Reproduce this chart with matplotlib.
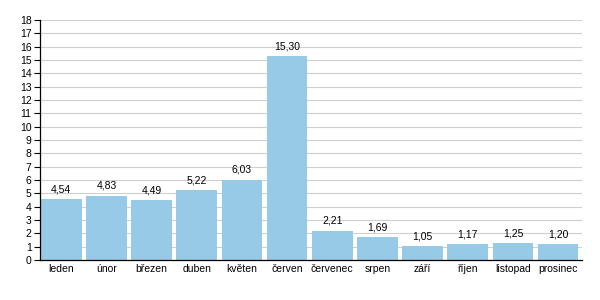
import matplotlib
matplotlib.use("Agg")
import matplotlib.pyplot as plt
import numpy as np

months = ["leden", "únor", "březen", "duben", "květen", "červen",
          "červenec", "srpen", "září", "říjen", "listopad", "prosinec"]
values = [4.54, 4.83, 4.49, 5.22, 6.03, 15.30, 2.21, 1.69, 1.05, 1.17, 1.25, 1.20]
yticks = list(range(0, 19))

plt.rcParams['font.family'] = ['Liberation Sans', 'DejaVu Sans']

fig = plt.figure(figsize=(6, 3), dpi=100)
ax = fig.add_axes([0.0667, 0.1333, 0.9033, 0.80])

x = np.arange(len(months))
bar_w = 0.9
# bars sit at the left of each slot with the gap on the right
bars = ax.bar(x + 0.02, values, width=bar_w, align='edge', color='#96cae6', zorder=2)
centers = x + 0.02 + bar_w / 2
for xc, v in zip(centers, values):
    ax.text(xc, v + 0.35, f"{v:.2f}".replace('.', ','), ha='center', va='bottom', fontsize=7.5)

ax.set_xlim(0, len(months))
ax.set_ylim(0, 18)
ax.set_yticks(yticks)
ax.set_xticks(centers)
ax.set_xticklabels(months)
ax.tick_params(axis='x', length=0, labelsize=7.5, pad=3)
ax.tick_params(axis='y', length=4, width=0.8, labelsize=7.5, pad=2)
ax.yaxis.grid(True, color='#cfcfcf', linewidth=0.8, zorder=0)
ax.set_axisbelow(True)
for s in ['top', 'right']:
    ax.spines[s].set_visible(False)
ax.spines['left'].set_linewidth(0.9)
ax.spines['bottom'].set_linewidth(0.9)

fig.savefig("out.png", dpi=100)
